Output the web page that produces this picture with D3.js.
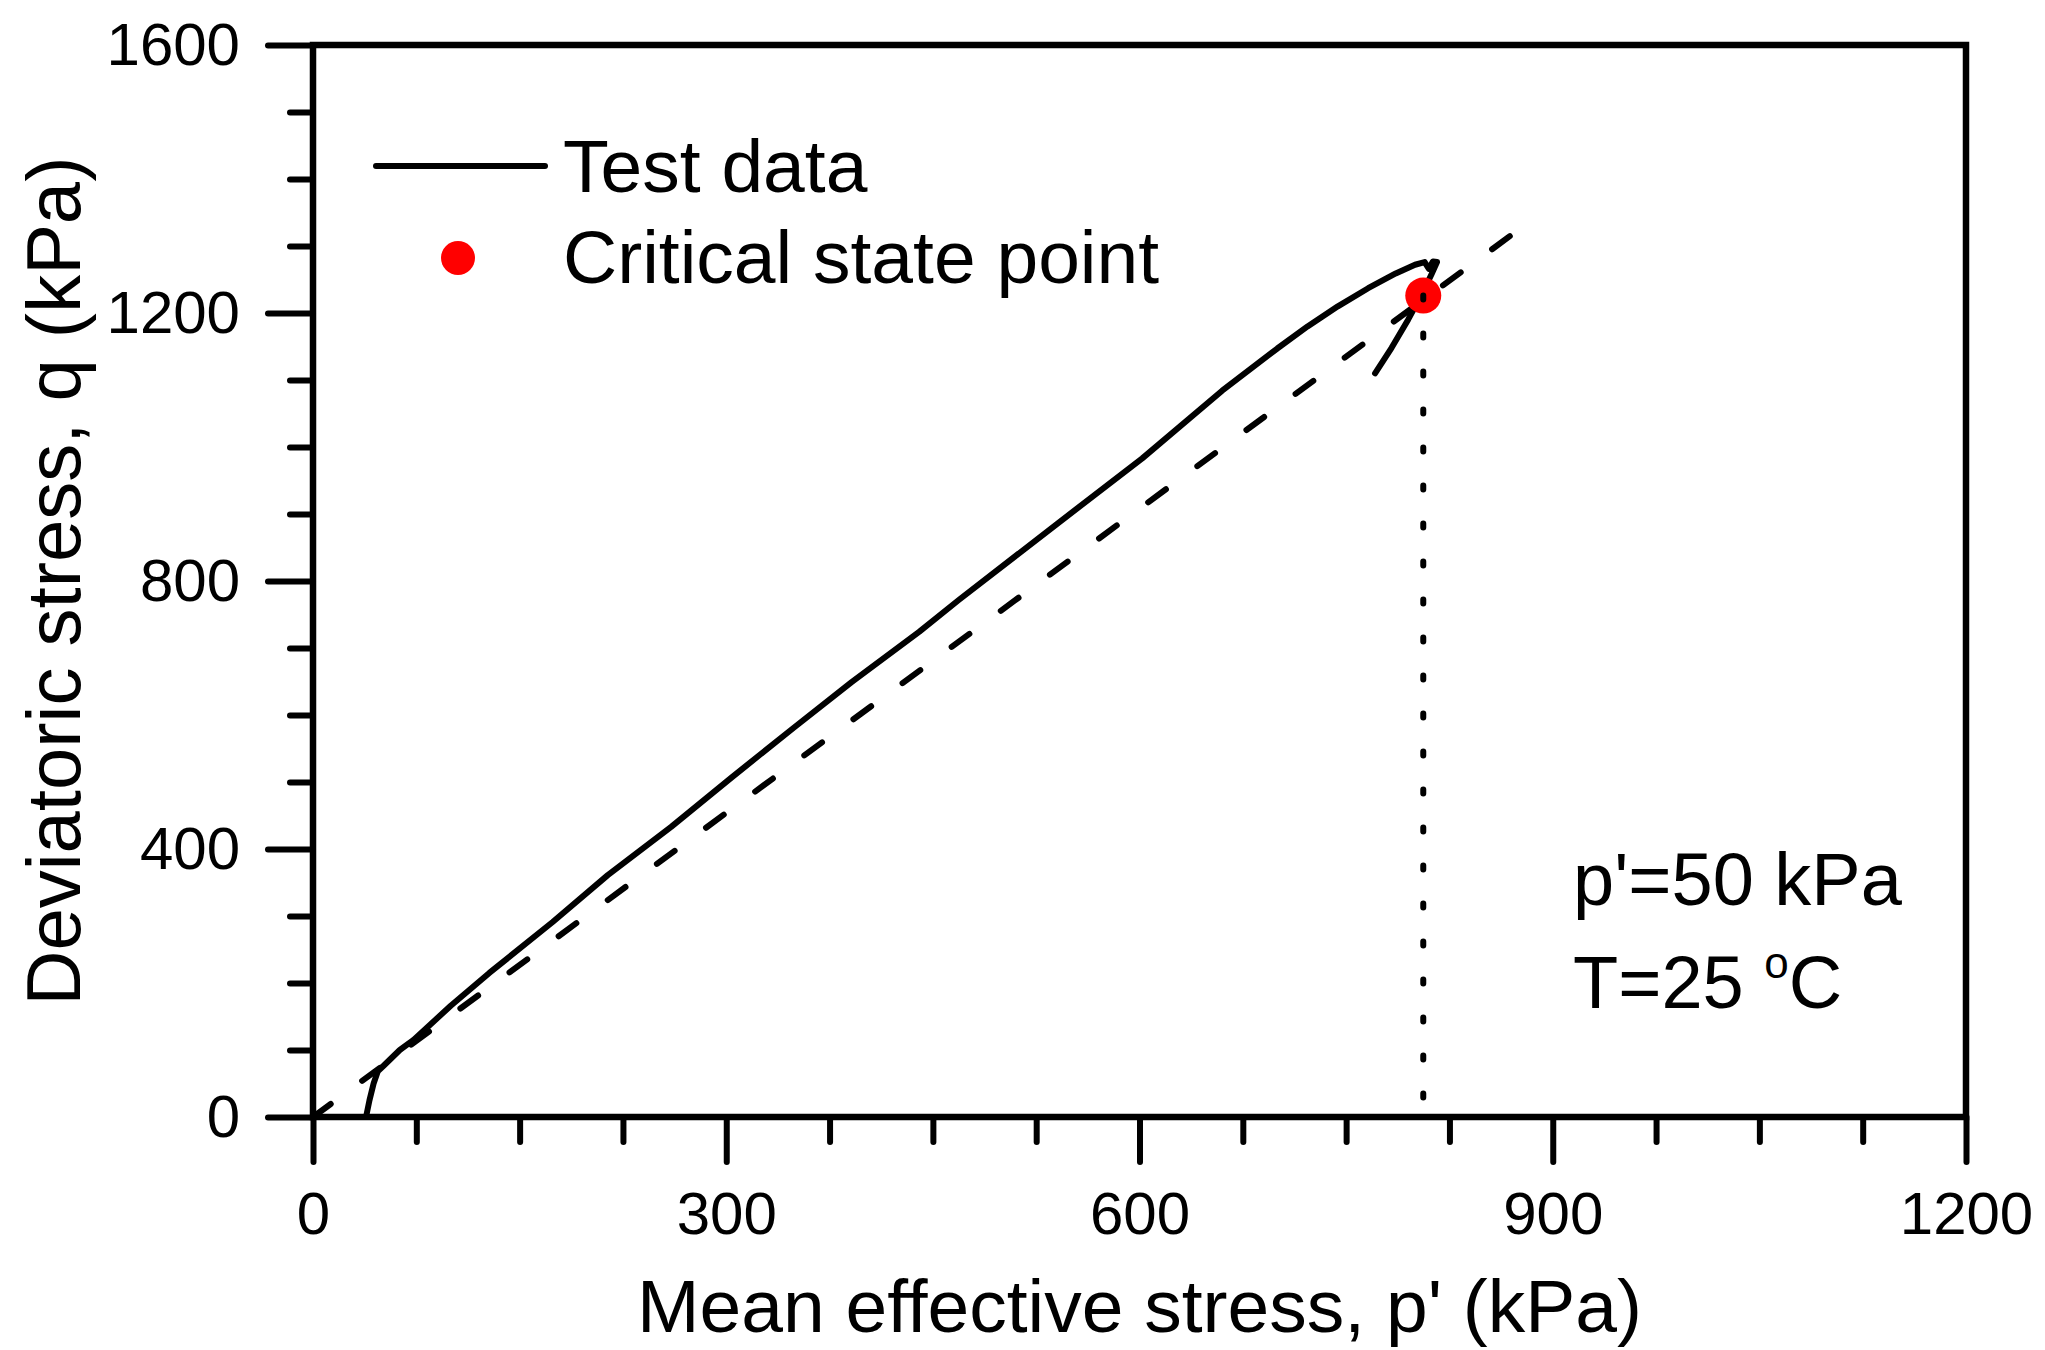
<!DOCTYPE html>
<html>
<head>
<meta charset="utf-8">
<script src="https://cdn.jsdelivr.net/npm/d3@7/dist/d3.min.js"></script>
<style>
  html, body { margin: 0; padding: 0; background: #fff; }
  svg { display: block; font-family: "Liberation Sans", Arial, sans-serif; }
</style>
</head>
<body>
<svg id="chart" width="2045" height="1350"></svg>
<script>
// ---- data ----
const testP = [38.5, 41, 44, 47, 52, 63, 73, 100, 128, 174, 214, 260, 304, 349, 391, 440, 469, 540, 602, 660, 700, 722, 744, 766, 786, 800, 807, 810, 813, 816, 812, 806, 795, 783, 771];
const testQ = [0, 25, 50, 68, 78, 100, 115, 166, 215, 291, 361, 433, 507, 581, 649, 724, 772, 885, 983, 1084, 1147, 1180, 1210, 1237, 1259, 1272, 1276, 1266, 1277, 1276, 1258, 1232, 1190, 1148, 1110];
const cslP = [0, 875];
const cslQ = [0, 1324];
const critP = [806];
const critQ = [1226];
const xMajor = [0, 300, 600, 900, 1200];
const xMinor = [75, 150, 225, 375, 450, 525, 675, 750, 825, 975, 1050, 1125];
const yMajor = [0, 400, 800, 1200, 1600];
const yMinor = [100, 200, 300, 500, 600, 700, 900, 1000, 1100, 1300, 1400, 1500];
const legendLabels = ["Test data", "Critical state point"];
const xTitle = "Mean effective stress, p' (kPa)";
const yTitle = "Deviatoric stress, q (kPa)";

// ---- layout ----
const L = 313, R = 1966, T = 45, B = 1117;
const svg = d3.select("#chart");
const x = d3.scaleLinear().domain([0, 1200]).range([L, R]);
const y = d3.scaleLinear().domain([0, 1600]).range([B, T]);

function styleAxis(g) {
  g.select(".domain").remove();
  g.selectAll(".tick line").attr("stroke", "#000").attr("stroke-width", 6).attr("stroke-linecap", "round");
  g.selectAll(".tick text").attr("fill", "#000").attr("font-size", 60).attr("font-family", "Liberation Sans, Arial, sans-serif");
}

// minor ticks
svg.append("g").attr("transform", `translate(0,${B})`)
  .call(d3.axisBottom(x).tickValues(xMinor).tickSize(25).tickFormat(""))
  .call(styleAxis);
svg.append("g").attr("transform", `translate(${L},0)`)
  .call(d3.axisLeft(y).tickValues(yMinor).tickSize(23).tickFormat(""))
  .call(styleAxis);
// major ticks
svg.append("g").attr("transform", `translate(0,${B})`)
  .call(d3.axisBottom(x).tickValues(xMajor).tickSize(45).tickPadding(29).tickFormat(d3.format("d")))
  .call(styleAxis);
svg.append("g").attr("transform", `translate(${L},0)`)
  .call(d3.axisLeft(y).tickValues(yMajor).tickSize(45).tickPadding(28).tickFormat(d3.format("d")))
  .call(styleAxis);

// frame
svg.append("rect").attr("x", L).attr("y", T).attr("width", R - L).attr("height", B - T)
  .attr("fill", "none").attr("stroke", "#000").attr("stroke-width", 6.5);

const line = d3.line().x(d => x(d[0])).y(d => y(d[1]));

// critical state line (dashed)
svg.append("path").datum(d3.zip(cslP, cslQ)).attr("d", line)
  .attr("fill", "none").attr("stroke", "#000").attr("stroke-width", 6)
  .attr("stroke-dasharray", "22 39").attr("stroke-linecap", "round");

// test data
svg.append("path").datum(d3.zip(testP, testQ)).attr("d", line)
  .attr("fill", "none").attr("stroke", "#000").attr("stroke-width", 6)
  .attr("stroke-linejoin", "round").attr("stroke-linecap", "round");

// critical state point
svg.selectAll("circle.crit").data(d3.zip(critP, critQ)).join("circle")
  .attr("class", "crit").attr("cx", d => x(d[0])).attr("cy", d => y(d[1])).attr("r", 18)
  .attr("fill", "#ff0000");

// dotted vertical line
svg.selectAll("path.drop").data(d3.zip(critP, critQ)).join("path")
  .attr("class", "drop")
  .attr("d", d => line([[d[0], d[1]], [d[0], 0]]))
  .attr("fill", "none").attr("stroke", "#000").attr("stroke-width", 6)
  .attr("stroke-dasharray", "4 34").attr("stroke-linecap", "round");

// legend
svg.append("line").attr("x1", 376).attr("x2", 545).attr("y1", 166).attr("y2", 166)
  .attr("stroke", "#000").attr("stroke-width", 6).attr("stroke-linecap", "round");
svg.append("circle").attr("cx", 458).attr("cy", 258).attr("r", 17).attr("fill", "#ff0000");
svg.selectAll("text.leg").data(legendLabels).join("text").attr("class", "leg")
  .attr("x", 563).attr("y", (d, i) => 192 + i * 91)
  .attr("font-size", 75).attr("fill", "#000").text(d => d);

// annotations
svg.append("text").attr("x", 1573).attr("y", 905).attr("font-size", 74).text("p'=50 kPa");
const tt = svg.append("text").attr("x", 1573).attr("y", 1008).attr("font-size", 74);
tt.append("tspan").text("T=25 ");
tt.append("tspan").attr("font-size", 44).attr("dy", -30).text("o");
tt.append("tspan").attr("dy", 30).text("C");

// axis titles
svg.append("text").attr("x", (L + R) / 2).attr("y", 1332).attr("text-anchor", "middle")
  .attr("font-size", 75).text(xTitle);
svg.append("text").attr("transform", `translate(80,${(T + B) / 2}) rotate(-90)`)
  .attr("text-anchor", "middle").attr("font-size", 76).text(yTitle);
</script>
</body>
</html>
